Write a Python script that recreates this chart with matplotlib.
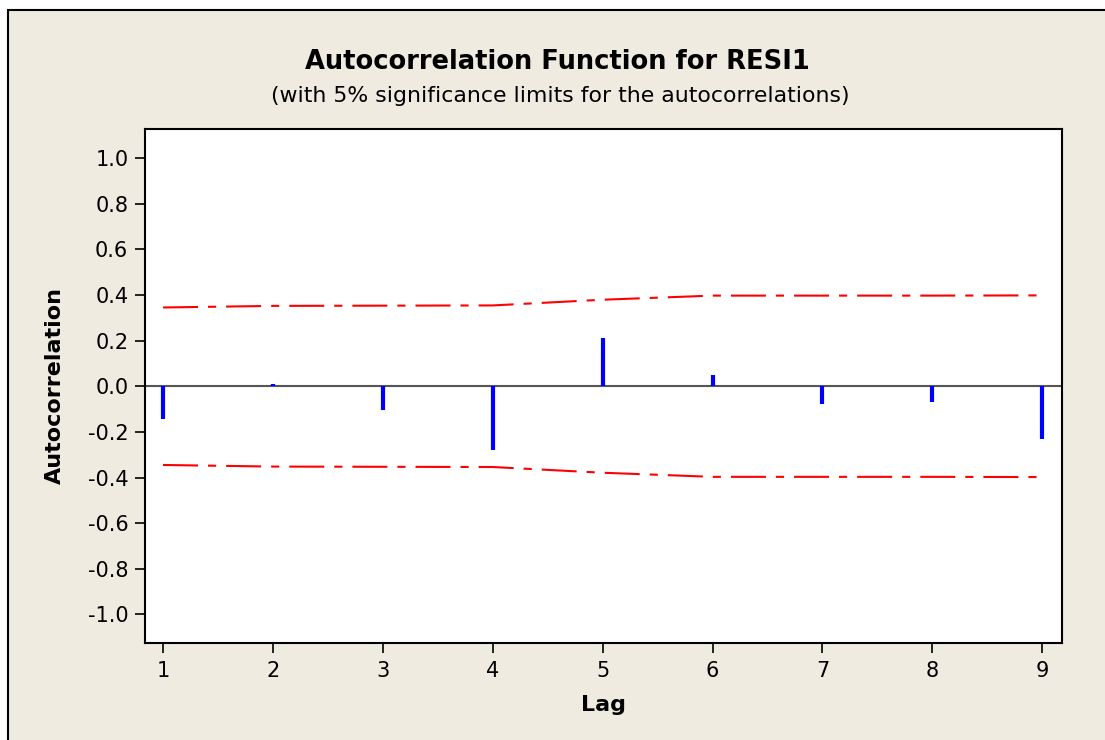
import numpy as np
import matplotlib
matplotlib.use("Agg")
import matplotlib.pyplot as plt
from matplotlib.patches import Rectangle

# ACF values
lags = [1, 2, 3, 4, 5, 6, 7, 8, 9]
acf = [-0.142, 0.01, -0.103, -0.278, 0.212, 0.05, -0.077, -0.068, -0.23]
limit = [0.345, 0.352, 0.353, 0.354, 0.379, 0.397, 0.397, 0.397, 0.398]
yticks = [-1.0, -0.8, -0.6, -0.4, -0.2, 0.0, 0.2, 0.4, 0.6, 0.8, 1.0]

W, H = 1105, 740
fig = plt.figure(figsize=(W / 100, H / 100), dpi=100)
fig.patch.set_facecolor("white")

# beige outer frame, clipped on the right and bottom like the screenshot
frame = Rectangle((8 / W, -0.05), 1.2, 1 - 10 / H + 0.05, transform=fig.transFigure,
                  facecolor="#efebe1", edgecolor="black", lw=1.5, zorder=-10)
fig.patches.append(frame)

ax = fig.add_axes([145 / W, (H - 643) / H, (1062 - 145) / W, (643 - 129) / H])
ax.set_facecolor("white")

ax.axhline(0, color="#555555", lw=1.5, zorder=1)
ax.vlines(lags, 0, acf, colors="#0000ff", lw=3, zorder=3)

# dash lengths are multiplied by the line width (1.5)
dash = (0, (16.8, 4.8, 3.9, 4.8))
up = np.array(limit)
ax.plot(lags, up, color="#ff0000", lw=1.5, linestyle=dash, zorder=2)
ax.plot(lags, -up, color="#ff0000", lw=1.5, linestyle=dash, zorder=2)

ax.set_xlim(0.836, 9.18)
ax.set_ylim(-1.125, 1.127)
ax.set_xticks(lags)
ax.set_yticks(yticks)
ax.set_yticklabels(["%.1f" % v for v in yticks])
ax.tick_params(direction="out", length=7, width=1.2, labelsize=15, colors="black")
ax.tick_params(axis="y", pad=5)
ax.tick_params(axis="x", pad=6)
for s in ax.spines.values():
    s.set_linewidth(1.5)
    s.set_color("black")

ax.set_xlabel("Lag", fontsize=16, fontweight="bold", labelpad=10)
ax.set_ylabel("Autocorrelation", fontsize=16, fontweight="bold", labelpad=16)

fig.text(557 / W, 1 - 62 / H, "Autocorrelation Function for RESI1", ha="center", va="center",
         fontsize=18.5, fontweight="bold")
fig.text(560 / W, 1 - 96 / H, "(with 5% significance limits for the autocorrelations)",
         ha="center", va="center", fontsize=15.8)

fig.savefig("out.png", dpi=100)
